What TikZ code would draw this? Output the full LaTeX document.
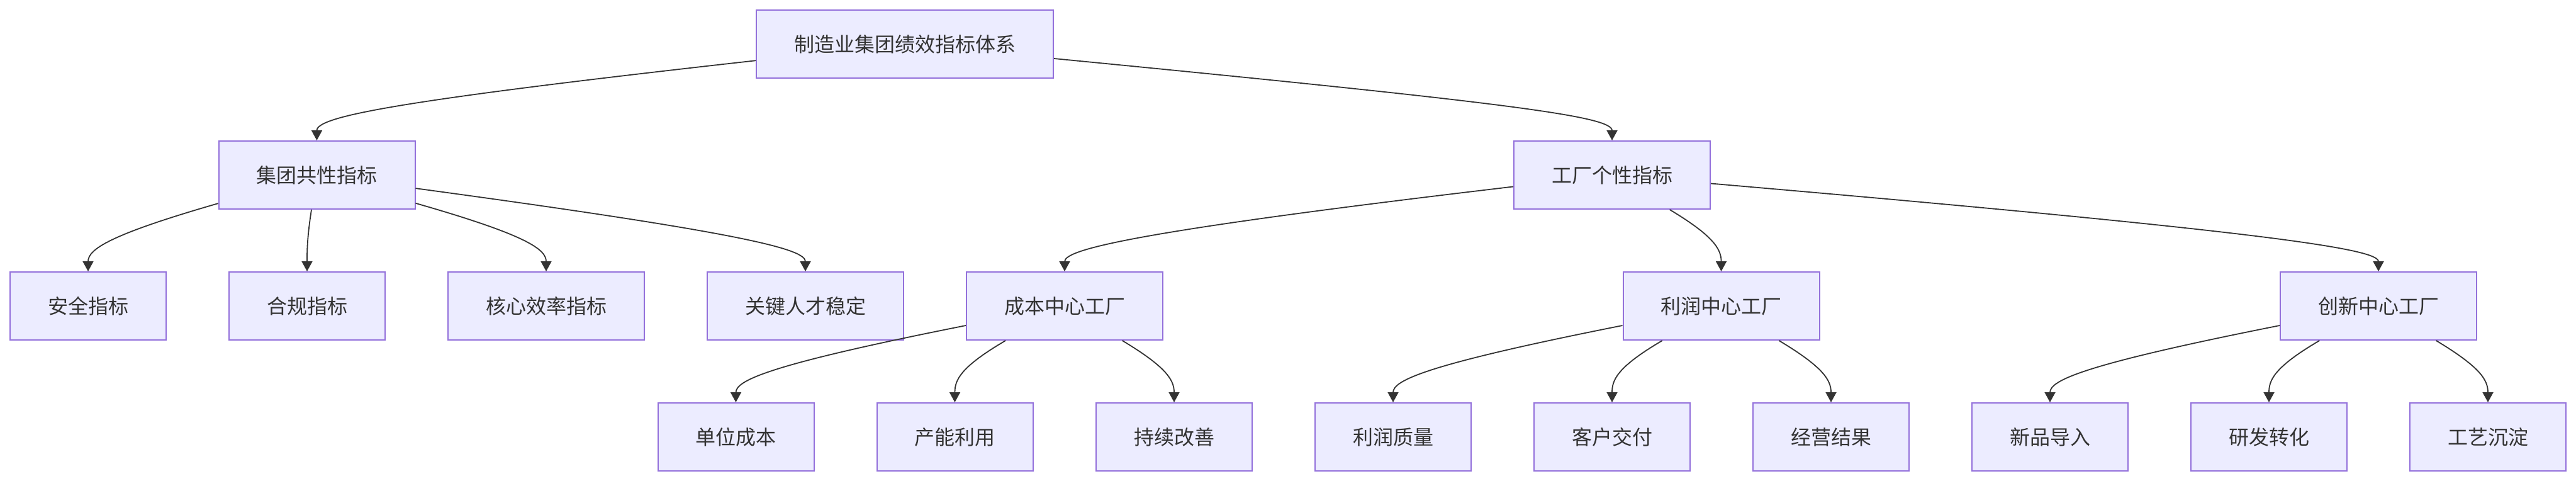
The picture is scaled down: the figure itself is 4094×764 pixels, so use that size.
\documentclass[tikz,border=0pt]{standalone}
\usepackage{fontspec}
\usetikzlibrary{arrows.meta}
\newfontfamily\cjkfont{Noto Sans CJK SC}
\definecolor{boxfill}{HTML}{ECECFF}
\definecolor{boxline}{HTML}{9370DB}
\definecolor{ink}{HTML}{333333}

\begin{document}
\begin{tikzpicture}[x=0.5pt, y=-0.5pt,
        box/.style={draw=boxline, fill=boxfill, line width=1pt, minimum height=54pt,
            inner sep=0pt, text=ink, font=\cjkfont\fontsize{16}{19}\selectfont},
        smallbox/.style={box, minimum width=124pt},
        widebox/.style={box, minimum width=156pt},
        link/.style={draw=ink, line width=0.9pt, -{Triangle[length=8pt, width=8.5pt]}}]
        \useasboundingbox (0,0) rectangle (4094,764);

        % top
        \node[box, minimum width=236pt] (root) at (1438,70) {制造业集团绩效指标体系};

        % second row
        \node[widebox] (group) at (503.5,278) {集团共性指标};
        \node[widebox] (factory) at (2562,278) {工厂个性指标};

        % third row
        \node[smallbox] (safety) at (140,486) {安全指标};
        \node[smallbox] (comply) at (488,486) {合规指标};
        \node[widebox] (effic) at (868,486) {核心效率指标};
        \node[widebox] (talent) at (1280,486) {关键人才稳定};
        \node[widebox] (costc) at (1692,486) {成本中心工厂};
        \node[widebox] (profitc) at (2735.5,486) {利润中心工厂};
        \node[widebox] (innovc) at (3780,486) {创新中心工厂};

        % bottom row
        \node[smallbox] (unitcost) at (1169.5,694) {单位成本};
        \node[smallbox] (capacity) at (1517.5,694) {产能利用};
        \node[smallbox] (improve) at (1866,694) {持续改善};
        \node[smallbox] (profq) at (2214,694) {利润质量};
        \node[smallbox] (delivery) at (2562,694) {客户交付};
        \node[smallbox] (result) at (2910,694) {经营结果};
        \node[smallbox] (newprod) at (3258,694) {新品导入};
        \node[smallbox] (rdconv) at (3606,694) {研发转化};
        \node[smallbox] (process) at (3954,694) {工艺沉淀};

        % root to the two groups
        \draw[link] (root) to[out=186.5, in=90, out distance=288pt, in distance=19pt] (group);
        \draw[link] (root) to[out=354.6, in=90, out distance=368pt, in distance=19pt] (factory);

        % group indicators
        \draw[link] (group) to[out=196.1, in=90, out distance=90pt, in distance=17.5pt] (safety);
        \draw[link] (group) to[out=261.5, in=90, out distance=21.5pt, in distance=17.5pt] (comply);
        \draw[link] (group) to[out=344.1, in=90, out distance=92pt, in distance=17.5pt] (effic);
        \draw[link] (group) to[out=352.4, in=90, out distance=266pt, in distance=17.5pt] (talent);

        % factory types
        \draw[link] (factory) to[out=186.9, in=90, out distance=302pt, in distance=17.5pt] (costc);
        \draw[link] (factory) to[out=329.1, in=90, out distance=41pt, in distance=17.5pt] (profitc);
        \draw[link] (factory) to[out=355.1, in=90, out distance=451pt, in distance=17.5pt] (innovc);

        % cost centre
        \draw[link] (costc) to[out=191.3, in=90, out distance=159pt, in distance=17.5pt] (unitcost);
        \draw[link] (costc) to[out=210.8, in=90, out distance=41.5pt, in distance=17.5pt] (capacity);
        \draw[link] (costc) to[out=329.1, in=90, out distance=41.5pt, in distance=17.5pt] (improve);

        % profit centre
        \draw[link] (profitc) to[out=191.3, in=90, out distance=159pt, in distance=17.5pt] (profq);
        \draw[link] (profitc) to[out=210.9, in=90, out distance=41.5pt, in distance=17.5pt] (delivery);
        \draw[link] (profitc) to[out=329.2, in=90, out distance=41.5pt, in distance=17.5pt] (result);

        % innovation centre
        \draw[link] (innovc) to[out=191.3, in=90, out distance=159pt, in distance=17.5pt] (newprod);
        \draw[link] (innovc) to[out=210.9, in=90, out distance=41.5pt, in distance=17.5pt] (rdconv);
        \draw[link] (innovc) to[out=329.1, in=90, out distance=41.5pt, in distance=17.5pt] (process);

    \end{tikzpicture}
\end{document}
